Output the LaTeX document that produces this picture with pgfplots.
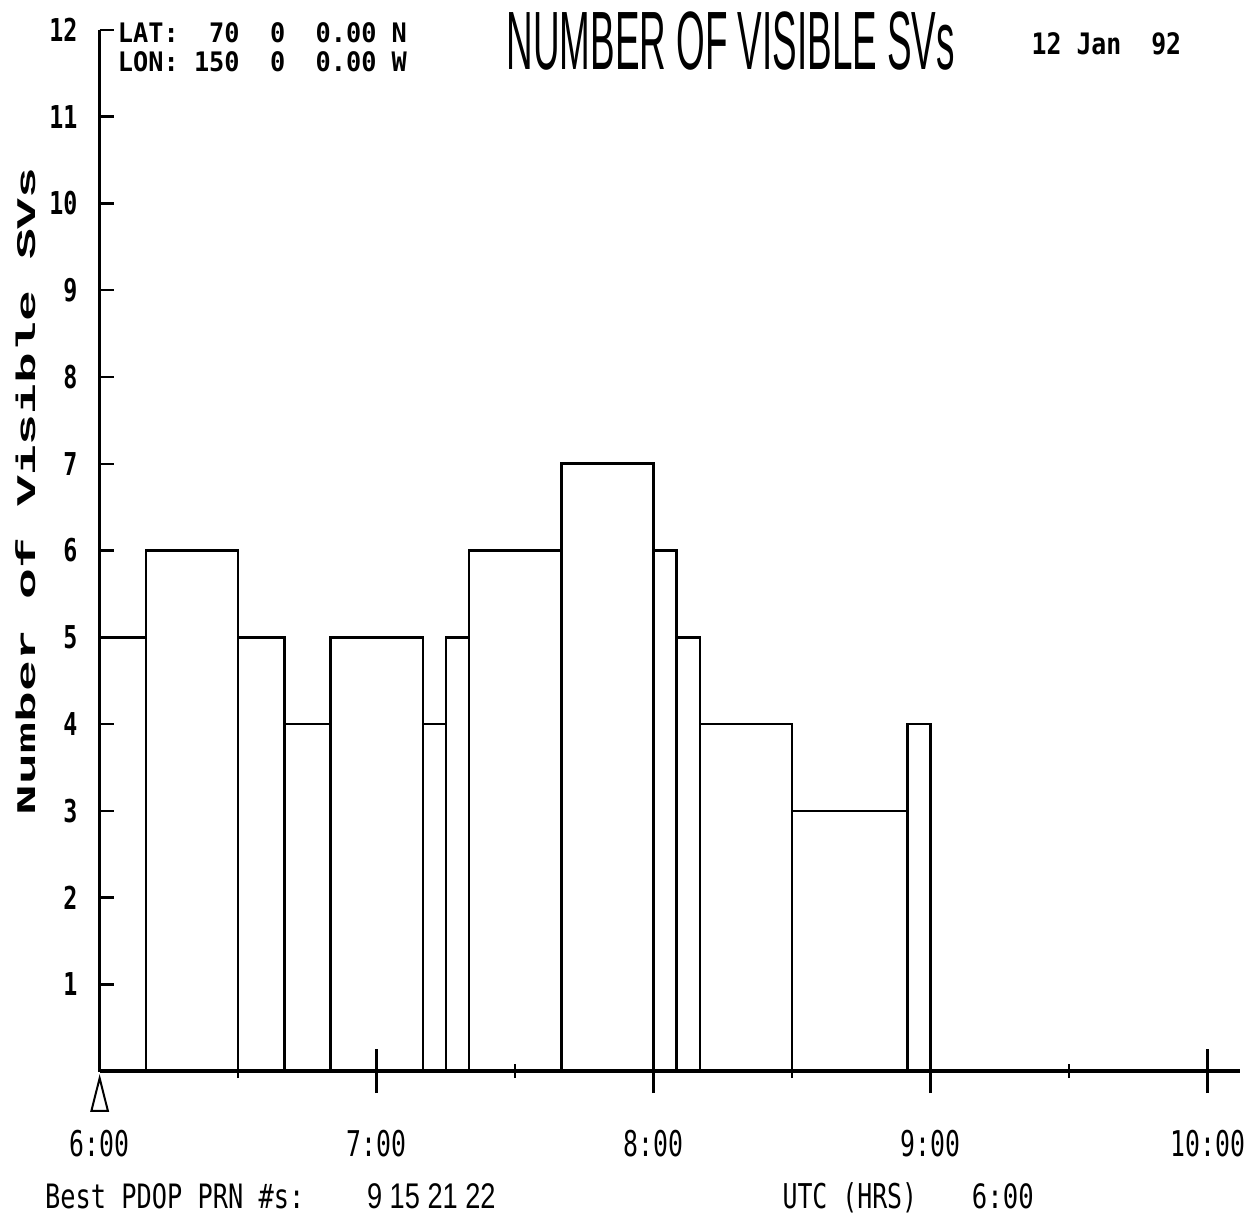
\documentclass[border=0pt]{standalone}
\usepackage{pgfplots}
\pgfplotsset{compat=1.18}
\usepackage{fontspec}
\usepackage{graphicx}
\newfontfamily\dmono{DejaVu Sans Mono}
\newfontfamily\lmono{Liberation Mono}
\newfontfamily\lsans{Liberation Sans}
\begin{document}
\begin{tikzpicture}
% main axis: bars, y ticks, axis lines, x tick labels
\begin{axis}[
  at={(0pt,0pt)}, anchor=south west,
  scale only axis, width=572.2pt, height=522.5pt,
  xmin=0, xmax=247, ymin=0, ymax=12,
  axis lines*=left,
  x axis line style={line width=1.8pt},
  y axis line style={line width=1.2pt},
  clip=false,
  tick align=inside,
  major tick length=7pt,
  tick style={line width=1.2pt, black},
  ytick={1,2,3,4,5,6,7,8,9,10,11,12},
  yticklabels={1,2,3,4,5,6,7,8,9,10,11,12},
  xtick={0,60,120,180,240},
  xticklabels={6:00,7:00,8:00,9:00,10:00},
  xticklabel style={anchor=center, inner sep=0pt, yshift=-36.5pt, xscale=0.7,
    font=\fontsize{17.8}{20}\selectfont\dmono},
  yticklabel style={anchor=east, inner sep=0pt, xshift=-11pt, xscale=0.74,
    font=\fontsize{15.8}{18}\selectfont\dmono\bfseries},
]
\addplot[ybar interval, draw=black, line width=1.3pt] coordinates {
  (0,5) (10,6) (30,5) (40,4) (50,5) (70,4) (75,5) (80,6) (100,7)
  (120,6) (125,5) (130,4) (150,3) (175,4) (180,0)
};
\addplot[only marks, mark=triangle, mark size=6pt,
  mark options={line width=1pt, draw=black, xscale=0.8, yscale=1.83}]
  coordinates {(0,-0.333)};
\end{axis}
% second axis: centred x ticks
\begin{axis}[
  at={(0pt,0pt)}, anchor=south west,
  scale only axis, width=572.2pt, height=522.5pt,
  xmin=0, xmax=247, ymin=0, ymax=12,
  hide y axis,
  axis x line*=bottom,
  x axis line style={draw=none},
  tick align=center,
  xtick={60,120,180,240}, xticklabels={},
  minor xtick={30,90,150,210},
  major tick length=22pt, minor tick length=7pt,
  tick style={line width=1.2pt, black},
]
\addplot[draw=none] coordinates {(0,0)};
\end{axis}
% third axis: the longer tick at 5
\begin{axis}[
  at={(0pt,0pt)}, anchor=south west,
  scale only axis, width=572.2pt, height=522.5pt,
  xmin=0, xmax=247, ymin=0, ymax=12,
  hide x axis,
  axis y line*=left,
  y axis line style={draw=none},
  tick align=inside,
  ytick={5}, yticklabels={},
  major tick length=16pt,
  tick style={line width=1.2pt, black},
]
\addplot[draw=none] coordinates {(0,0)};
\end{axis}
\begin{scope}[x=0.5pt,y=-0.5pt,shift={(-50pt,537.5pt)}]
\node[anchor=base west, inner sep=0pt] at (118,43)
  {\resizebox{145pt}{10pt}{\dmono\bfseries LAT:~~70~~0~~0.00~N}};
\node[anchor=base west, inner sep=0pt] at (118,72)
  {\resizebox{145pt}{10pt}{\dmono\bfseries LON:~150~~0~~0.00~W}};
\node[anchor=base west, inner sep=0pt] at (508,70)
  {\resizebox{225pt}{29pt}{\lsans NUMBER OF VISIBLE SVs}};
\node[anchor=base west, inner sep=0pt] at (1035,55)
  {\resizebox{75pt}{11pt}{\dmono\bfseries 12~Jan~~92}};
\node[rotate=90, anchor=center, inner sep=0pt] at (26,493)
  {\resizebox{325pt}{10pt}{\lmono\bfseries Number of Visible SVs}};
\node[anchor=base west, inner sep=0pt] at (45,1213)
  {\resizebox{130pt}{12.5pt}{\dmono Best~PDOP~PRN~\#s:}};
\node[anchor=base west, inner sep=0pt] at (368,1213)
  {\resizebox{64.5pt}{12.5pt}{\lsans 9 15 21 22}};
\node[anchor=base west, inner sep=0pt] at (785,1213)
  {\resizebox{67.5pt}{13pt}{\dmono UTC~(HRS)}};
\node[anchor=base west, inner sep=0pt] at (975,1213)
  {\resizebox{31pt}{12.5pt}{\dmono 6:00}};
\path[use as bounding box] (0,0) rectangle (1245,1224);
\end{scope}
\end{tikzpicture}
\end{document}
